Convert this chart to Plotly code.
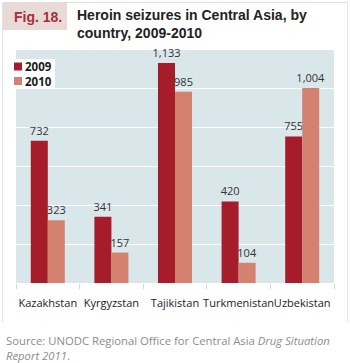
import plotly.graph_objects as go

countries = ["Kazakhstan", "Kyrgyzstan", "Tajikistan", "Turkmenistan", "Uzbekistan"]
seizures_2009 = [732, 341, 1133, 420, 755]
seizures_2010 = [323, 157, 985, 104, 1004]
series_names = ["2009", "2010"]
series_colors = ["#A51D2B", "#D4826F"]
y_ticks = [0, 200, 400, 600, 800, 1000, 1200]

W, H = 350, 363
L, R, T, B = 16, 334, 50, 283


def px(x):
    return (x - L) / (R - L)


def py(y):
    return (B - y) / (B - T)


fig = go.Figure()
for name, vals, col in zip(series_names, [seizures_2009, seizures_2010], series_colors):
    fig.add_trace(go.Bar(
        x=countries, y=vals, name=name,
        marker=dict(color=col, line=dict(width=0)),
        texttemplate="%{y:,}", textposition="outside", constraintext="none",
        textfont=dict(family="Open Sans", size=11, color="#333333"),
        cliponaxis=False, showlegend=False,
    ))

shapes = [
    # frame
    dict(type="line", xref="paper", yref="paper", x0=px(2.5), x1=px(347.5), y0=py(2.5), y1=py(2.5),
         line=dict(color="#DEDEDE", width=1), layer="below"),
    dict(type="line", xref="paper", yref="paper", x0=px(2.5), x1=px(2.5), y0=py(2.5), y1=py(322),
         line=dict(color="#E4E4E4", width=1), layer="below"),
    dict(type="line", xref="paper", yref="paper", x0=px(347.5), x1=px(347.5), y0=py(2.5), y1=py(322),
         line=dict(color="#E4E4E4", width=1), layer="below"),
    # Fig box
    dict(type="rect", xref="paper", yref="paper", x0=px(3), x1=px(67), y0=py(3), y1=py(30),
         fillcolor="#EADAD7", line=dict(width=0), layer="below"),
    # legend box
    dict(type="rect", xref="paper", yref="paper", x0=px(12), x1=px(55), y0=py(59), y1=py(88.5),
         fillcolor="white", line=dict(width=0), layer="above"),
]

annotations = [
    dict(text="<b>Fig. 18.</b>", xref="paper", yref="paper", x=px(12), y=py(17), xanchor="left",
         yanchor="middle", showarrow=False, font=dict(family="Liberation Sans", size=14, color="#A3303A")),
    dict(text="<b>Heroin seizures in Central Asia, by<br>country, 2009-2010</b>", xref="paper", yref="paper",
         x=px(75), y=py(5), xanchor="left", yanchor="top", align="left", showarrow=False,
         font=dict(family="Liberation Sans", size=14, color="#222222")),
    dict(text="Source: UNODC Regional Office for Central Asia <i>Drug Situation<br>Report 2011</i>.",
         xref="paper", yref="paper", x=px(4), y=py(331), xanchor="left", yanchor="top", align="left",
         showarrow=False, font=dict(family="Open Sans", size=11.3, color="#8C8C8C")),
]

# manual compact legend
for i, (name, col) in enumerate(zip(series_names, series_colors)):
    cy = 66.5 + i * 14.5
    shapes.append(dict(type="rect", xref="paper", yref="paper", x0=px(14), x1=px(22), y0=py(cy - 4),
                       y1=py(cy + 4), fillcolor=col, line=dict(width=0), layer="above"))
    annotations.append(dict(text="<b>" + name + "</b>", xref="paper", yref="paper", x=px(23.5), y=py(cy),
                            xanchor="left", yanchor="middle", showarrow=False,
                            borderpad=0, font=dict(family="Open Sans", size=11.5, color="#1A1A1A")))

fig.update_layout(
    width=W, height=H,
    margin=dict(l=L, r=W - R, t=T, b=H - B),
    paper_bgcolor="white",
    plot_bgcolor="#D9E6EA",
    barmode="group",
    bargap=0.465,
    bargroupgap=0,
    showlegend=False,
    shapes=shapes,
    annotations=annotations,
    xaxis=dict(
        type="category", tickson="boundaries", ticks="outside", ticklen=5, tickcolor="#CCD8DC",
        tickangle=0, showgrid=False, showline=False, zeroline=False, ticklabelstandoff=12,
        tickfont=dict(family="Open Sans", size=11, color="#222222"),
    ),
    yaxis=dict(
        range=[0, 1200], tickvals=y_ticks, showticklabels=False, showgrid=True,
        gridcolor="white", gridwidth=1, zeroline=False, showline=False, ticks="",
    ),
)

fig.write_html("out.html")
